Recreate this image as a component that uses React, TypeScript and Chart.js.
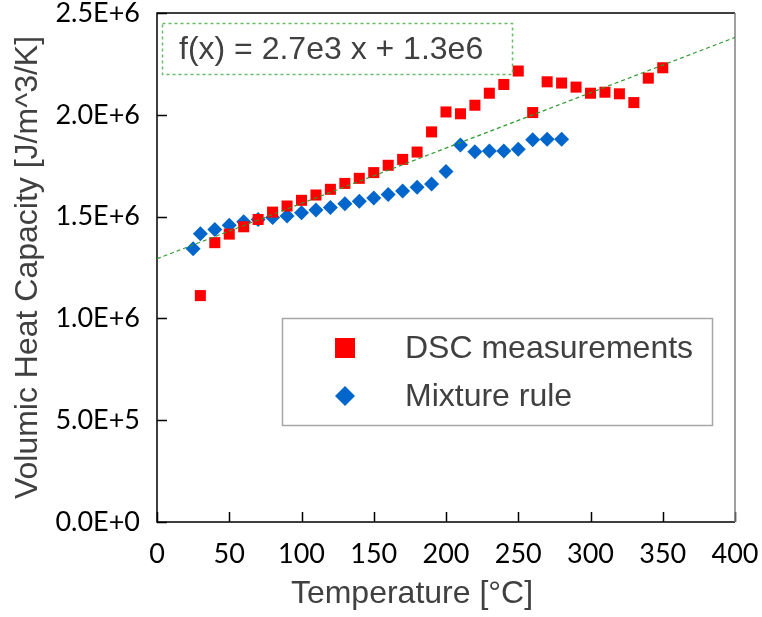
import { useEffect, useRef } from "react";
import { Chart, registerables } from "chart.js";

Chart.register(...registerables);

// ---- data ----
const dscTemps = [30, 40, 50, 60, 70, 80, 90, 100, 110, 120, 130, 140, 150, 160, 170, 180, 190, 200, 210, 220, 230, 240, 250, 260, 270, 280, 290, 300, 310, 320, 330, 340, 350];
const dscValues = [1.112e6, 1.372e6, 1.414e6, 1.45e6, 1.486e6, 1.522e6, 1.552e6, 1.58e6, 1.606e6, 1.634e6, 1.663e6, 1.688e6, 1.716e6, 1.752e6, 1.781e6, 1.817e6, 1.916e6, 2.014e6, 2.005e6, 2.047e6, 2.106e6, 2.149e6, 2.215e6, 2.011e6, 2.162e6, 2.156e6, 2.136e6, 2.106e6, 2.111e6, 2.103e6, 2.06e6, 2.18e6, 2.231e6];

const mixTemps = [25, 30, 40, 50, 60, 70, 80, 90, 100, 110, 120, 130, 140, 150, 160, 170, 180, 190, 200, 210, 220, 230, 240, 250, 260, 270, 280];
const mixValues = [1.342e6, 1.416e6, 1.437e6, 1.457e6, 1.475e6, 1.486e6, 1.495e6, 1.503e6, 1.519e6, 1.532e6, 1.545e6, 1.563e6, 1.575e6, 1.591e6, 1.608e6, 1.626e6, 1.644e6, 1.66e6, 1.722e6, 1.852e6, 1.819e6, 1.822e6, 1.822e6, 1.831e6, 1.877e6, 1.88e6, 1.88e6];

const trendX = [0, 400];
const trendY = [1.293e6, 2.38e6];

const xTicks = [0, 50, 100, 150, 200, 250, 300, 350, 400];
const yTicks = [0, 5e5, 1e6, 1.5e6, 2e6, 2.5e6];

const seriesLabels = ["DSC measurements", "Mixture rule"];
const trendLabel = "f(x) = 2.7e3 x + 1.3e6";
const xTitle = "Temperature [°C]";
const yTitle = "Volumic Heat Capacity [J/m^3/K]";

const TEXT_FONT = "'Liberation Sans', Arial, sans-serif";
const TICK_FONT = "Lato, 'Open Sans', sans-serif";
const GRAY_TEXT = "#404040";

const decor = {
  id: "decor",
  beforeDatasetsDraw(chart: any) {
    const { ctx, chartArea: a, scales } = chart;
    ctx.save();
    ctx.strokeStyle = "#000";
    ctx.lineWidth = 1.5;
    ctx.beginPath();
    for (const t of scales.x.ticks) {
      const px = Math.round(scales.x.getPixelForValue(t.value)) + 0.5;
      ctx.moveTo(px, a.bottom);
      ctx.lineTo(px, a.bottom - 10);
    }
    for (const t of scales.y.ticks) {
      const py = Math.round(scales.y.getPixelForValue(t.value)) + 0.5;
      ctx.moveTo(a.left, py);
      ctx.lineTo(a.left + 10, py);
    }
    ctx.stroke();
    // left, top, bottom borders black
    ctx.beginPath();
    ctx.moveTo(a.right, a.top);
    ctx.lineTo(a.left, a.top);
    ctx.lineTo(a.left, a.bottom);
    ctx.lineTo(a.right, a.bottom);
    ctx.stroke();
    // right border gray
    ctx.strokeStyle = "#808080";
    ctx.beginPath();
    ctx.moveTo(a.right, a.top);
    ctx.lineTo(a.right, a.bottom);
    ctx.stroke();
    ctx.restore();
  },
  afterDraw(chart: any) {
    const { ctx } = chart;
    ctx.save();
    // trendline equation box
    ctx.strokeStyle = "#66bb66";
    ctx.lineWidth = 1.5;
    ctx.setLineDash([3, 3]);
    ctx.strokeRect(162.5, 23.5, 350, 51);
    ctx.setLineDash([]);
    ctx.fillStyle = GRAY_TEXT;
    ctx.font = `32px ${TEXT_FONT}`;
    ctx.textBaseline = "middle";
    ctx.textAlign = "left";
    ctx.fillText(trendLabel, 179, 50);

    // legend
    ctx.strokeStyle = "#a6a6a6";
    ctx.lineWidth = 1.5;
    ctx.strokeRect(282.5, 318.5, 430, 107);
    const ds = chart.data.datasets;
    const rows = [348, 396];
    for (let i = 0; i < 2; i++) {
      const d = ds[i + 1];
      ctx.fillStyle = d.backgroundColor;
      if (d.pointStyle === "rect") {
        ctx.fillRect(335, rows[i] - 10, 20, 20);
      } else {
        ctx.beginPath();
        ctx.moveTo(345, rows[i] - 10);
        ctx.lineTo(355, rows[i]);
        ctx.lineTo(345, rows[i] + 10);
        ctx.lineTo(335, rows[i]);
        ctx.closePath();
        ctx.fill();
      }
      ctx.fillStyle = GRAY_TEXT;
      ctx.fillText(d.label, 405, rows[i] + 1);
    }

    // x axis title
    ctx.textAlign = "center";
    ctx.fillText(xTitle, 412, 594);
    ctx.restore();
  },
};

export default function App() {
  const ref = useRef<HTMLCanvasElement | null>(null);
  useEffect(() => {
    if (!ref.current) return;
    const chart = new Chart(ref.current, {
      type: "scatter",
      data: {
        datasets: [
          {
            type: "line",
            label: "trend",
            data: trendX.map((x, i) => ({ x, y: trendY[i] })),
            borderColor: "#2e9a2e",
            borderWidth: 1.2,
            borderDash: [4, 3],
            pointRadius: 0,
            fill: false,
          } as any,
          {
            label: seriesLabels[0],
            data: dscTemps.map((x, i) => ({ x, y: dscValues[i] })),
            backgroundColor: "#ff0000",
            borderColor: "#ff0000",
            borderWidth: 0,
            pointStyle: "rect",
            pointRadius: 7.8,
          },
          {
            label: seriesLabels[1],
            data: mixTemps.map((x, i) => ({ x, y: mixValues[i] })),
            backgroundColor: "#0066cc",
            borderColor: "#0066cc",
            borderWidth: 0,
            pointStyle: "rectRot",
            pointRadius: 7.5,
          },
        ],
      },
      options: {
        animation: false,
        responsive: false,
        devicePixelRatio: 1,
        layout: { padding: { top: 13, right: 27, left: 0, bottom: 0 } },
        plugins: {
          legend: { display: false },
          tooltip: { enabled: false },
        },
        scales: {
          x: {
            type: "linear",
            min: 0,
            max: 400,
            grid: { display: false },
            border: { display: false },
            afterBuildTicks: (s: any) => {
              s.ticks = xTicks.map((v) => ({ value: v }));
            },
            afterFit: (s: any) => {
              s.height = 95;
              s.paddingLeft = 0;
              s.paddingRight = 0;
              s.paddingTop = 0;
              s.paddingBottom = 0;
            },
            ticks: {
              color: "#000",
              padding: 8,
              maxRotation: 0,
              autoSkip: false,
              font: { family: TICK_FONT, size: 27 },
              callback: (v: any) => String(v),
            },
          },
          y: {
            type: "linear",
            min: 0,
            max: 2.5e6,
            grid: { display: false },
            border: { display: false },
            afterBuildTicks: (s: any) => {
              s.ticks = yTicks.map((v) => ({ value: v }));
            },
            afterFit: (s: any) => {
              s.width = 157;
              s.paddingLeft = 0;
              s.paddingRight = 0;
              s.paddingTop = 0;
              s.paddingBottom = 0;
            },
            ticks: {
              color: "#000",
              padding: 9,
              autoSkip: false,
              font: { family: TICK_FONT, size: 27 },
              callback: (v: any) => Number(v).toExponential(1).toUpperCase(),
            },
            title: {
              display: true,
              text: yTitle,
              color: GRAY_TEXT,
              font: { family: TEXT_FONT, size: 32, weight: "normal" },
              padding: { top: 9, bottom: 0 },
            },
          },
        },
      },
      plugins: [decor],
    });
    return () => chart.destroy();
  }, []);
  return (
    <div style={{ position: "absolute", left: 0, top: 0, width: 762, height: 617, background: "#fff" }}>
      <canvas ref={ref} width={762} height={617} style={{ display: "block" }} />
    </div>
  );
}
